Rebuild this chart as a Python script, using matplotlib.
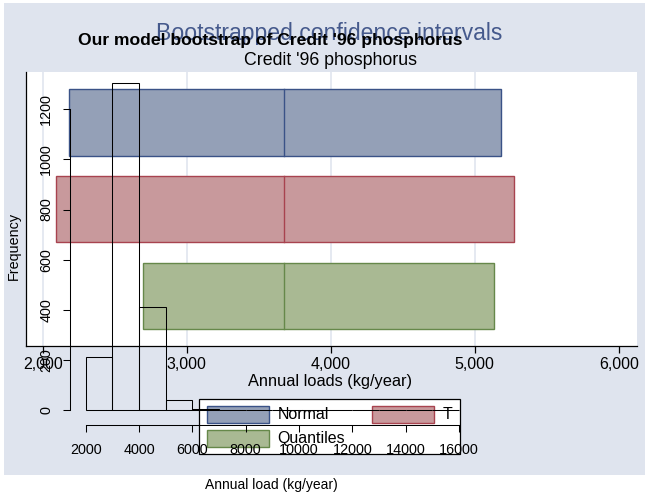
import numpy as np
import matplotlib
matplotlib.use('Agg')
import matplotlib.pyplot as plt
from matplotlib.patches import Rectangle

plt.rcParams['font.family'] = ['Liberation Sans', 'DejaVu Sans']

W, H = 645, 494

# bootstrapped confidence intervals (kg/year)
methods = ['Normal', 'T', 'Quantiles']
ci_low = [2183, 2092, 2697]
ci_high = [5185, 5275, 5132]
estimate = 3674
fills = ['#94a0b7', '#c8999c', '#a9b993']
edge_cols = ['#3a5287', '#a8434f', '#66884a']
xticks_ci = [2000, 3000, 4000, 5000, 6000]

# bootstrap replicates histogram
bin_edges = np.arange(2000, 16001, 1000)
counts = [214, 1306, 411, 41, 5, 2, 1, 0, 0, 0, 0, 0, 0, 1]
xticks_hist = list(range(2000, 16001, 2000))
yticks_hist = list(range(0, 1201, 200))


def fbox(l, t, r, b):
    return [l / W, 1 - b / H, (r - l) / W, (b - t) / H]


fig = plt.figure(figsize=(W / 100, H / 100), dpi=100, facecolor='white')

# background layer: graph region, titles, legend
bg = fig.add_axes([0, 0, 1, 1], zorder=0)
bg.set_xlim(0, W)
bg.set_ylim(H, 0)
bg.axis('off')
bg.add_patch(Rectangle((4, 3), 641, 472, facecolor='#dfe4ee', edgecolor='none'))
bg.text(329, 40, 'Bootstrapped confidence intervals', ha='center', va='baseline',
        fontsize=16.6, color='#45598c')
bg.text(330, 65, "Credit '96 phosphorus", ha='center', va='baseline', fontsize=12.8)
bg.text(330, 381, 'Annual loads (kg/year)', ha='center', va='center', fontsize=11.8)

bg.add_patch(Rectangle((199.3, 399.3), 261, 54.7, facecolor='white',
                       edgecolor='black', lw=0.9))
key_pos = [(206.7, 406), (371.7, 406), (206.7, 430)]
text_pos = [(277.7, 414.5), (443, 414.5), (277.7, 438.5)]
for i, m in enumerate(methods):
    kx, ky = key_pos[i]
    bg.add_patch(Rectangle((kx, ky), 62.6, 16.7, facecolor=fills[i],
                           edgecolor=edge_cols[i], lw=1))
    tx, ty = text_pos[i]
    bg.text(tx, ty, m, ha='left', va='center', fontsize=11.5)

# confidence interval bars
axA = fig.add_axes(fbox(25.7, 72, 637, 345.5), zorder=1)
axA.set_facecolor('white')
pos = [3, 2, 1]
bh = 0.767
widths = [h - l for l, h in zip(ci_low, ci_high)]
axA.barh(pos, widths, left=ci_low, height=bh, color=fills,
         edgecolor=edge_cols, lw=1, zorder=2)
for i, p in enumerate(pos):
    axA.plot([estimate, estimate], [p - bh / 2, p + bh / 2],
             color=edge_cols[i], lw=1, zorder=3)
axA.set_xlim(1882, 6127)
axA.set_ylim(0.431, 3.578)
axA.set_xticks(xticks_ci)
axA.set_xticklabels([f'{v:,}' for v in xticks_ci])
axA.set_yticks([])
axA.grid(axis='x', color='#e3e7f0', lw=1.3)
axA.set_axisbelow(True)
axA.get_xgridlines()[-1].set_visible(False)
for s in ['top', 'right']:
    axA.spines[s].set_visible(False)
for s in ['left', 'bottom']:
    axA.spines[s].set_color('black')
    axA.spines[s].set_linewidth(0.9)
axA.tick_params(axis='x', length=5, width=0.9, labelsize=11.5, pad=3)

# histogram of bootstrap replicates
axB = fig.add_axes(fbox(70, 69.5, 474, 425), zorder=2)
axB.set_facecolor('none')
axB.bar(bin_edges[:-1], counts, width=1000, align='edge', fill=False,
        edgecolor='black', lw=0.75)
axB.set_xlim(1411, 16563)
axB.set_ylim(-58, 1358)
for s in ['top', 'right']:
    axB.spines[s].set_visible(False)
axB.spines['left'].set_bounds(0, 1200)
axB.spines['bottom'].set_bounds(2000, 16000)
for s in ['left', 'bottom']:
    axB.spines[s].set_linewidth(0.75)
axB.set_xticks(xticks_hist)
axB.set_yticks(yticks_hist)
axB.set_yticklabels([str(v) for v in yticks_hist], rotation=90, va='center')
axB.tick_params(length=5, width=0.75, labelsize=10.4)
axB.tick_params(axis='x', pad=8)
axB.tick_params(axis='y', pad=7)

fig.text(270.5 / W, 1 - 45 / H, "Our model bootstrap of Credit '96 phosphorus",
         ha='center', va='baseline', fontsize=12.6, fontweight='bold')
fig.text(271.5 / W, 1 - 485 / H, 'Annual load (kg/year)', ha='center',
         va='center', fontsize=10)
fig.text(14 / W, 1 - 246 / H, 'Frequency', ha='center', va='center',
         rotation=90, fontsize=10.4)

fig.savefig('out.png', dpi=100)
